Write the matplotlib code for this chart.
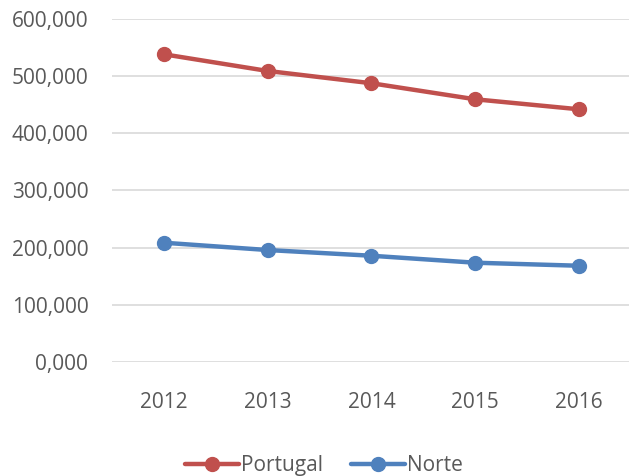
import matplotlib.pyplot as plt
from matplotlib.ticker import FuncFormatter

# dados (milhares)
anos = ['2012', '2013', '2014', '2015', '2016']
portugal = [538.3, 509.1, 487.6, 459.5, 442.0]
norte = [208.4, 195.6, 185.6, 173.4, 168.1]
y_ticks = [0, 100, 200, 300, 400, 500, 600]

plt.rcParams['font.family'] = ['Open Sans', 'DejaVu Sans']

fig = plt.figure(figsize=(6.29, 4.76), dpi=100)
ax = fig.add_axes([0.178, 0.240, 0.825, 0.720])

x = range(len(anos))
ax.plot(x, portugal, color='#C0504D', lw=3.2, marker='o', ms=10, label='Portugal',
        solid_capstyle='round', zorder=3)
ax.plot(x, norte, color='#4F81BD', lw=3.2, marker='o', ms=10, label='Norte',
        solid_capstyle='round', zorder=3)

ax.set_xlim(-0.5, len(anos) - 0.5)
ax.set_ylim(0, 600)
ax.set_yticks(y_ticks)
ax.yaxis.set_major_formatter(FuncFormatter(lambda v, p: f'{v:.3f}'.replace('.', ',')))
ax.set_xticks(list(x))
ax.set_xticklabels(anos)

ax.grid(axis='y', color='#D9D9D9', lw=1.2)
ax.set_axisbelow(True)
for s in ax.spines.values():
    s.set_visible(False)
ax.tick_params(length=0, labelsize=15, labelcolor='#595959')
ax.tick_params(axis='y', pad=17)
ax.tick_params(axis='x', pad=22)

leg = fig.legend(loc='lower center', bbox_to_anchor=(0.515, -0.04), ncol=2, frameon=False,
                 fontsize=15, handlelength=2.6, handletextpad=0.1, columnspacing=1.3)
for t in leg.get_texts():
    t.set_color('#595959')

fig.savefig('out.png', dpi=100)
